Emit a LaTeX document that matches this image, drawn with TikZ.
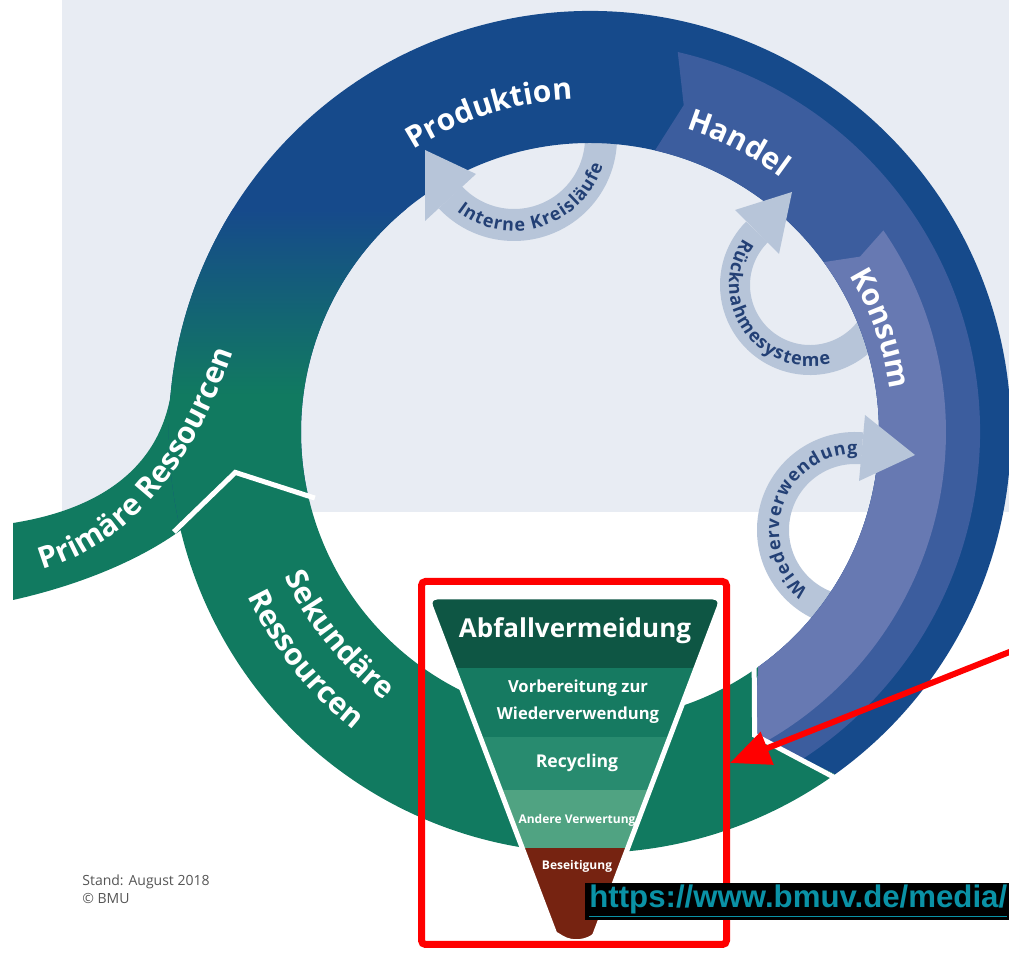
\documentclass[tikz,border=0pt]{standalone}
\usepackage{fontspec}
\setmainfont{Open Sans}
\newfontfamily\urlfamily{Liberation Sans}
\usetikzlibrary{decorations.text,arrows.meta}

\definecolor{bgpanel}{RGB}{232,236,243}
\definecolor{ringblue}{RGB}{22,74,139}
\definecolor{ringgreen}{RGB}{17,122,96}
\definecolor{handelblue}{RGB}{60,93,158}
\definecolor{konsumblue}{RGB}{103,121,178}
\definecolor{looppale}{RGB}{183,197,217}
\definecolor{looptext}{RGB}{35,64,117}
\definecolor{avoidgreen}{RGB}{14,86,68}
\definecolor{prepgreen}{RGB}{22,122,97}
\definecolor{recygreen}{RGB}{40,139,111}
\definecolor{othergreen}{RGB}{80,163,130}
\definecolor{disposered}{RGB}{118,35,17}
\definecolor{urlcyan}{RGB}{10,146,166}
\definecolor{standgrey}{RGB}{85,85,85}

\newcommand\ringfont{\fontsize{15}{17}\selectfont\bfseries}
\newcommand\loopfont{\fontsize{9}{11}\selectfont\bfseries}

\tikzset{
  loopband/.style={draw=looppale, line width=#1},
  loophead/.style={fill=looppale},
  ringlabel/.style={decorate, decoration={text along path, text color=white,
      text align=center, text={|\ringfont|#1}}},
  looplabel/.style={decorate, decoration={text along path, text color=looptext,
      text align=fit to path, text={|\loopfont|#1}}},
  tierlabel/.style={text=white, inner sep=0pt, align=center},
  junction/.style={draw=white, line width=2.5pt}
}

\begin{document}
\begin{tikzpicture}[x=0.5pt, y=0.5pt]

    \useasboundingbox (0,0) rectangle (1009,-957);
    \fill[bgpanel] (62,0) rectangle (1009,-512);

    % inner loops (tails run under the ring)
    \draw[loopband=16pt, shift={(514,-138)}] (20:87) arc[start angle=20, end angle=-137, radius=87];
    \draw[loopband=15pt, shift={(810,-285)}] (-25:75) arc[start angle=-25, end angle=-225, radius=75];
    \draw[loopband=16pt, shift={(855,-530)}] (-100:82) arc[start angle=-100, end angle=-275, radius=82];

    % primary resources branch
    \fill[ringgreen] (13,-523) .. controls (95,-510) and (168,-470) .. (173,-374) -- (240,-380) -- (240,-500)
      -- (181,-530) .. controls (140,-560) and (80,-585) .. (13,-600) -- cycle;

    % main ring
    \begin{scope}[shift={(590,-432)}]
      \fill[ringblue] (193.5:421) arc[start angle=193.5, end angle=-54.4, radius=421] -- (-61.5:345)
        -- (-54.4:289) arc[start angle=-54.4, end angle=193.5, radius=289] -- (186.5:357) -- cycle;
      \begin{scope}
        \clip (193.5:421) arc[start angle=193.5, end angle=-54.4, radius=421] -- (-61.5:345)
          -- (-54.4:289) arc[start angle=-54.4, end angle=193.5, radius=289] -- (186.5:357) -- cycle;
        \shade[top color=ringblue, bottom color=ringgreen] (-590,222) rectangle (-170,37);
        \fill[ringgreen] (-590,37) rectangle (-170,-170);
      \end{scope}
      \fill[ringgreen] (-54.4:421) arc[start angle=-54.4, end angle=-166.5, radius=421] -- (-173.5:357)
        -- (-166.5:289) arc[start angle=-166.5, end angle=-54.4, radius=289] -- (-61.5:345) -- cycle;
      \fill[handelblue] (77:390) arc[start angle=77, end angle=-57, radius=390] -- (-61.5:345)
        -- (-54.4:289) arc[start angle=-54.4, end angle=77, radius=289] -- (74:340) -- cycle;
      \fill[konsumblue] (34.5:356) arc[start angle=34.5, end angle=-60.5, radius=356] -- (-61.5:345)
        -- (-54.4:289) arc[start angle=-54.4, end angle=36, radius=289] -- (33:322) -- cycle;
      \draw[junction] (193.5:283) -- (186.5:357) -- (193.5:428);
      \draw[junction] (-54.4:282) -- (-61.5:345) -- (-54.4:428);
    \end{scope}

    % loop heads
    \fill[loophead] (425,-221) -- (476,-174) -- (425,-150) -- cycle;
    \fill[loophead] (735,-210) -- (779,-254) -- (792,-192) -- cycle;
    \fill[loophead] (865,-415) -- (859,-481) -- (915,-455) -- cycle;

    % ring labels
    \begin{scope}[shift={(590,-432)}]
      \path[ringlabel=Produktion] (137.5:333) arc[start angle=137.5, end angle=77.5, radius=333];
      \path[ringlabel=Handel] (92.8:318) arc[start angle=92.8, end angle=32.8, radius=318];
      \path[ringlabel=Konsum] (49.6:303) arc[start angle=49.6, end angle=-10.4, radius=303];
      \path[ringlabel=Sekundäre] (-171:338) arc[start angle=-171, end angle=-111, radius=338];
      \path[ringlabel=Ressourcen] (-171.4:380) arc[start angle=-171.4, end angle=-111.4, radius=380];
    \end{scope}
    \path[ringlabel=Primäre Ressourcen] (20,-575) .. controls (110,-558) and (190,-490) .. (240,-330);

    % loop labels
    \path[looplabel=Interne Kreisläufe, shift={(514,-138)}] (-128:93) arc[start angle=-128, end angle=-17, radius=93];
    \path[looplabel=Rücknahmesysteme, shift={(810,-285)}] (-215:81) arc[start angle=-215, end angle=-75, radius=81];
    \path[looplabel=Wiederverwendung, shift={(855,-530)}] (-128:76) arc[start angle=-128, end angle=-272, radius=76];

    % waste hierarchy
    \begin{scope}
      \clip[rounded corners=5pt] (427,-597) -- (723,-597) -- (598.4,-925.5)
        arc[start angle=-20.8, end angle=-159.2, radius=25] -- cycle;
      \fill[avoidgreen] (400,-560) rectangle (750,-668);
      \fill[prepgreen] (400,-668) rectangle (750,-737);
      \fill[recygreen] (400,-737) rectangle (750,-790);
      \fill[othergreen] (400,-790) rectangle (750,-848);
      \fill[disposered] (400,-848) rectangle (750,-1000);
    \end{scope}
    \draw[white, line width=2.5pt, rounded corners=5pt] (427,-597) -- (723,-597) -- (598.4,-925.5)
      arc[start angle=-20.8, end angle=-159.2, radius=25] -- cycle;

    \node[tierlabel, font=\fontsize{13}{15}\selectfont\bfseries] (avoid) at (575,-631) {Abfallvermeidung};
    \node[tierlabel, font=\fontsize{8.3}{13.5}\selectfont\bfseries] (prep) at (578,-702) {Vorbereitung zur\\Wiederverwendung};
    \node[tierlabel, font=\fontsize{8.8}{10}\selectfont\bfseries] (recy) at (577,-763) {Recycling};
    \node[tierlabel, font=\fontsize{6}{7}\selectfont\bfseries] (other) at (577,-820) {Andere Verwertung};
    \node[tierlabel, font=\fontsize{6}{7}\selectfont\bfseries] (dispose) at (577,-866) {Beseitigung};

    \node[anchor=north west, align=left, inner sep=0pt, text=standgrey,
      font=\fontsize{7}{9}\selectfont] (stand) at (82,-874) {Stand: August 2018\\© BMU};

    % annotation
    \node[draw=red, line width=3.5pt, rounded corners=2pt, minimum width=152.5pt,
      minimum height=181.5pt, inner sep=0pt] (pyramidbox) at (574,-763) {};
    \coordinate (arrowfrom) at (1012,-651);
    \draw[red, line width=3pt, -{Triangle[length=20pt,width=17pt]}] (arrowfrom) -- (pyramidbox.east);

    \node[fill=black, anchor=west, inner xsep=2pt, inner ysep=0pt, minimum height=18.5pt,
      text=urlcyan, font=\urlfamily\fontsize{15.6}{18}\selectfont\bfseries] (urllink) at (585,-901.5)
      {\underline{https://www.bmuv.de/media/}};

\end{tikzpicture}
\end{document}
